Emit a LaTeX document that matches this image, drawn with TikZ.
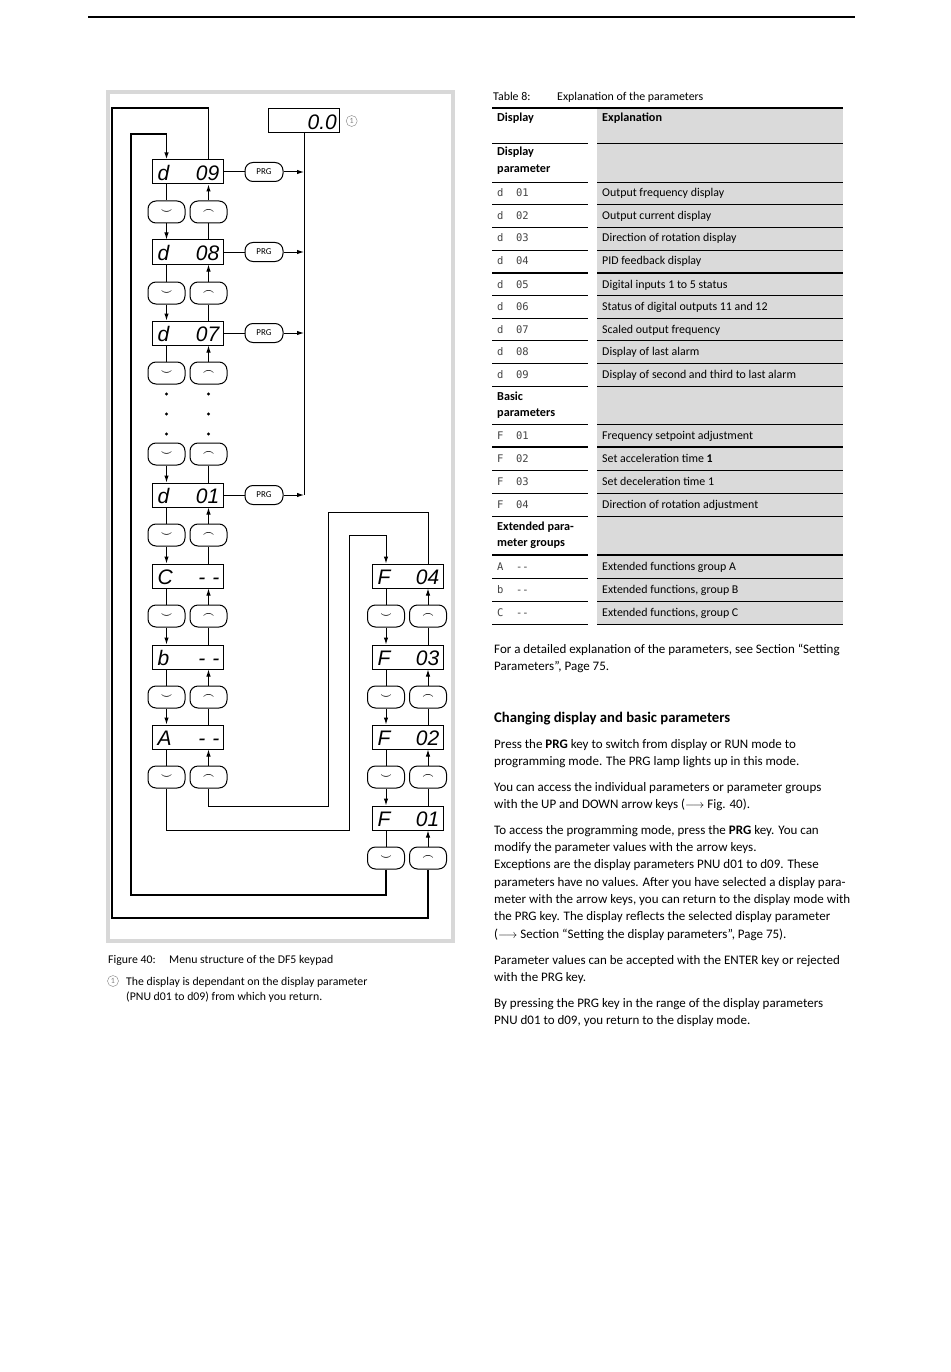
\documentclass[tikz,border=0pt]{standalone}
\usepackage{fontspec}
\setmainfont{Carlito}
\setmonofont{DejaVu Sans Mono}
\newfontfamily\segfont{Liberation Sans}
\usetikzlibrary{arrows.meta,positioning}
\definecolor{framec}{HTML}{D8D8D8}
\definecolor{cellc}{HTML}{DADADA}
\definecolor{codec}{HTML}{444444}
\tikzset{
  ln/.style={line width=1pt},
  lp/.style={line width=1.6pt},
  ar/.style={ln,-{Latex[length=7pt,width=4.5pt]}},
  disp/.style={draw,line width=1pt,minimum width=71pt,minimum height=24pt,inner sep=0pt},
  seg/.style={inner sep=0pt,font=\segfont\itshape\fontsize{21}{21}\selectfont},
  key/.style={draw,line width=1pt,rounded corners=8pt,minimum width=37pt,minimum height=22pt,inner sep=0pt,font=\boldmath\fontsize{10}{10}\selectfont},
  prg/.style={key,minimum width=38pt,minimum height=19pt,font=\fontsize{9}{9}\selectfont},
  txt/.style={anchor=base west,inner sep=0pt,font=\fontsize{13}{15}\selectfont},
  tab/.style={anchor=base west,inner sep=0pt,font=\fontsize{11.9}{14}\selectfont},
  bhd/.style={tab,font=\bfseries\fontsize{12.2}{14}\selectfont},
  captxt/.style={txt,font=\fontsize{11.8}{14}\selectfont},
  code/.style={anchor=base west,inner sep=0pt,text=codec,font=\ttfamily\fontsize{10.5}{12}\selectfont},
  num/.style={circle,draw=gray,text=gray,inner sep=0pt,minimum size=11pt,font=\fontsize{8}{8}\selectfont}
}

\begin{document}
\begin{tikzpicture}[x=1pt,y=-1pt]
\fill[white] (0,0) rectangle (950,1372);
\useasboundingbox (0,0) rectangle (950,1372);
\draw[line width=1.3pt] (88,17) -- (855,17);
% figure frame
\draw[framec,line width=4pt] (108,92) rectangle (452.5,941);

% displays, left column
\foreach \n/\y/\l/\r in {d9/172/d/09,d8/252/d/08,d7/333/d/07,d1/495/d/01,dC/576/C/{-\,\,-},dB/657/b/{-\,\,-},dA/737/A/{-\,\,-}}{
  \node[disp] (\n) at (187.5,\y) {};
  \node[seg,anchor=base west] (\n-l) at ([xshift=6pt,yshift=4pt]\n.south west) {\l};
  \node[seg,anchor=base east] (\n-r) at ([xshift=-4pt,yshift=4pt]\n.south east) {\r};
}
\foreach \k/\y in {9/212,8/293,7/373,x/454,1/535,C/616,B/697,A/777}{
  \node[key] (dk\k) at (166.5,\y) {$\smile$};
  \node[key] (uk\k) at (208.5,\y) {$\frown$};
}
\foreach \a/\k/\b in {d9/9/d8,d8/8/d7,d1/1/dC,dC/C/dB,dB/B/dA}{
  \draw[ln] (\a.south -| dk\k) -- (dk\k);
  \draw[ar] (dk\k) -- (\b.north -| dk\k);
  \draw[ln] (\b.north -| uk\k) -- (uk\k);
  \draw[ar] (uk\k) -- (\a.south -| uk\k);
}
\draw[ln] (d7.south -| dk7) -- (dk7);
\draw[ar] (uk7) -- (d7.south -| uk7);
\draw[ar] (dkx) -- (d1.north -| dkx);
\draw[ln] (d1.north -| ukx) -- (ukx);
\draw[ln] (dA.south -| dkA) -- (dkA);
\draw[ar] (ukA) -- (dA.south -| ukA);
\foreach \y in {394,414,434}{
  \fill (166.5,\y) circle (1.6pt);
  \fill (208.5,\y) circle (1.6pt);
}

% PRG keys and return display
\node[disp] (zz) at (304,121) {};
\node[seg,anchor=base east] (zz-r) at ([xshift=-3pt,yshift=4pt]zz.south east) {0.0};
\node[num,right=6pt of zz] (n1) {1};
\draw[ln] (zz) -- (zz |- d1);
\foreach \n in {d9,d8,d7,d1}{
  \node[prg,right=21pt of \n] (p\n) {PRG};
  \draw[ln] (\n) -- (p\n);
  \draw[ar] (p\n) -- (p\n -| zz);
}

% displays, right column
\foreach \n/\y/\r in {f4/576/04,f3/657/03,f2/737/02,f1/818/01}{
  \node[disp] (\n) at (407.5,\y) {};
  \node[seg,anchor=base west] (\n-l) at ([xshift=6pt,yshift=4pt]\n.south west) {F};
  \node[seg,anchor=base east] (\n-r) at ([xshift=-4pt,yshift=4pt]\n.south east) {\r};
}
\foreach \k/\y in {4/616,3/697,2/777,1/858}{
  \node[key] (fd\k) at (386,\y) {$\smile$};
  \node[key] (fu\k) at (428,\y) {$\frown$};
}
\foreach \a/\k/\b in {f4/4/f3,f3/3/f2,f2/2/f1}{
  \draw[ln] (\a.south -| fd\k) -- (fd\k);
  \draw[ar] (fd\k) -- (\b.north -| fd\k);
  \draw[ln] (\b.north -| fu\k) -- (fu\k);
  \draw[ar] (fu\k) -- (\a.south -| fu\k);
}
\draw[ln] (f1.south -| fd1) -- (fd1);
\draw[ar] (fu1) -- (f1.south -| fu1);

% loops
\coordinate (c1a) at (112,108);
\coordinate (c1b) at (112,918);
\coordinate (c2a) at (131,895);
\coordinate (c2b) at (131,134);
\coordinate (c3a) at (328,512);
\coordinate (c3b) at (328,806);
\coordinate (c4a) at (349,830);
\coordinate (c4b) at (349,535);
\draw[lp] (d9.north -| uk9) |- (c1a) -- (c1b) -| (fu1);
\draw[ar,lp] (fd1) |- (c2a) -- (c2b) -| (d9.north -| dk9);
\draw[ln] (f4.north -| fu4) |- (c3a) -- (c3b) -| (ukA);
\draw[ar] (dkA) |- (c4a) -- (c4b) -| (f4.north -| fd4);

% caption
\node[captxt] (cap1) at (108,963) {Figure 40:};
\node[captxt] (cap2) at (169,963) {Menu structure of the DF5 keypad};
\node[num] (cap3) at (113,981) {1};
\node[captxt] (cap4) at (126,985) {The display is dependant on the display parameter};
\node[captxt] (cap5) at (126,1000) {(PNU d01 to d09) from which you return.};

% table
\node[tab] (tb1) at (493,101) {Table 8:};
\node[tab] (tb2) at (557,101) {Explanation of the parameters};
\fill[cellc] (597,108) rectangle (843,624);
\draw[line width=1.5pt] (492,108) -- (843,108);
\foreach \y/\w in {143/0.9pt,182/0.9pt,204/0.9pt,227/0.9pt,250/0.9pt,273/1.6pt,295/0.9pt,318/0.9pt,340/0.9pt,363/0.9pt,386/0.9pt,424/0.9pt,447/1.6pt,470/0.9pt,493/0.9pt,516/0.9pt,555/1.6pt,578/0.9pt,601/0.9pt,624/0.9pt}{
  \draw[line width=\w] (492,\y) -- (588,\y);
  \draw[line width=\w] (597,\y) -- (843,\y);
}
\node[bhd] (th1) at (497,122) {Display};
\node[bhd] (th2) at (602,122) {Explanation};
\foreach \y/\t [count=\i] in {156/Display,173/parameter,400/Basic,416/parameters,530/Extended para-,546/meter groups}{
  \node[bhd] (tg\i) at (497,\y) {\t};
}
\foreach \y/\c/\t [count=\i] in {197/d~~01/Output frequency display,220/d~~02/Output current display,242/d~~03/Direction of rotation display,265/d~~04/PID feedback display,288/d~~05/Digital inputs 1 to 5 status,310/d~~06/Status of digital outputs 11 and 12,333/d~~07/Scaled output frequency,355/d~~08/Display of last alarm,378/d~~09/Display of second and third to last alarm,439/F~~01/Frequency setpoint adjustment,462/F~~02/Set acceleration time \textbf{1},485/F~~03/Set deceleration time 1,508/F~~04/Direction of rotation adjustment,570/A~~--/Extended functions group A,593/b~~--/{Extended functions, group B},616/C~~--/{Extended functions, group C}}{
  \node[code] (tc\i) at (497,\y) {\c};
  \node[tab] (tx\i) at (602,\y) {\t};
}

% text
\foreach \y/\t [count=\i] in {653/{For a detailed explanation of the parameters, see Section “Setting},670/{Parameters”, Page 75.},748/{Press the \textbf{PRG} key to switch from display or RUN mode to},765/{programming mode. The PRG lamp lights up in this mode.},791/{You can access the individual parameters or parameter groups},808/{with the UP and DOWN arrow keys ($\longrightarrow$ Fig. 40).},834/{To access the programming mode, press the \textbf{PRG} key. You can},851/{modify the parameter values with the arrow keys.},868/{Exceptions are the display parameters PNU d01 to d09. These},886/{parameters have no values. After you have selected a display para-},903/{meter with the arrow keys, you can return to the display mode with},920/{the PRG key. The display reflects the selected display parameter},938/{($\longrightarrow$ Section “Setting the display parameters”, Page 75).},964/{Parameter values can be accepted with the ENTER key or rejected},981/{with the PRG key.},1007/{By pressing the PRG key in the range of the display parameters},1024/{PNU d01 to d09, you return to the display mode.}}{
  \node[txt] (bt\i) at (494,\y) {\t};
}
\node[txt,font=\bfseries\fontsize{14.7}{17}\selectfont] (hd) at (494,722) {Changing display and basic parameters};
\end{tikzpicture}
\end{document}
